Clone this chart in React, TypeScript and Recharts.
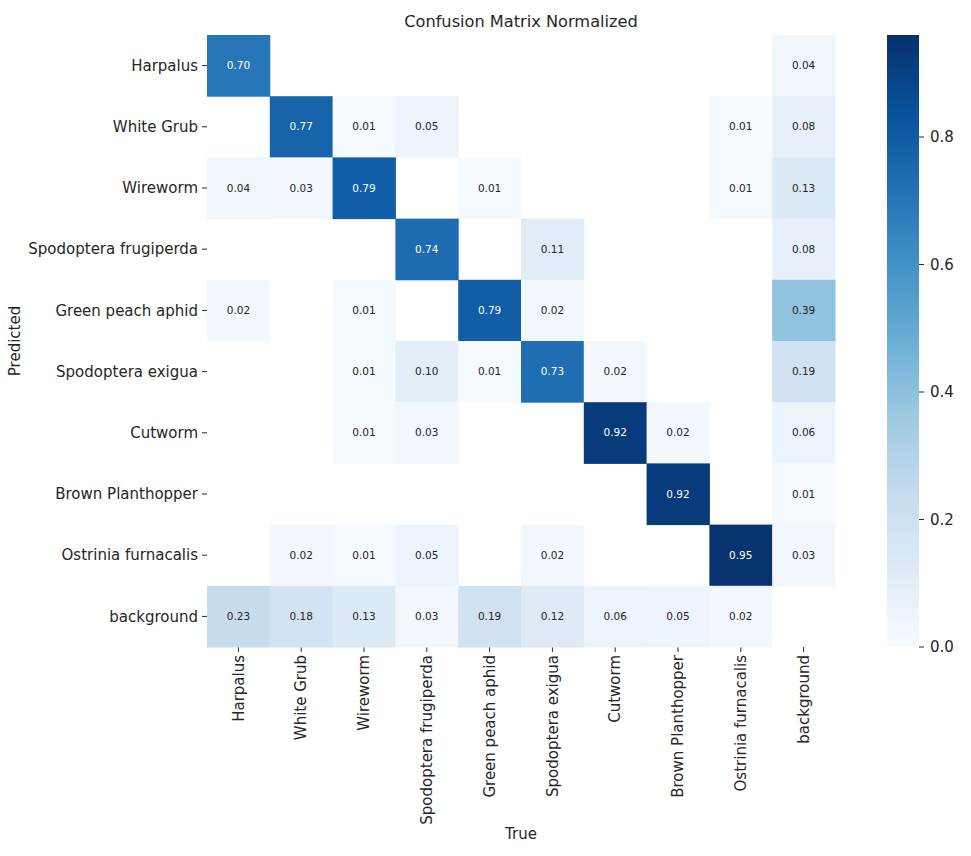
import React from 'react';
import { ScatterChart, Scatter, XAxis, YAxis, BarChart, Bar } from 'recharts';

// Class names, in matrix order (rows = predicted, columns = true)
const classes = [
  'Harpalus',
  'White Grub',
  'Wireworm',
  'Spodoptera frugiperda',
  'Green peach aphid',
  'Spodoptera exigua',
  'Cutworm',
  'Brown Planthopper',
  'Ostrinia furnacalis',
  'background',
];

// Normalized confusion values, one array per predicted class
const rowHarpalus = [0.7, 0, 0, 0, 0, 0, 0, 0, 0, 0.04];
const rowWhiteGrub = [0, 0.77, 0.01, 0.05, 0, 0, 0, 0, 0.01, 0.08];
const rowWireworm = [0.04, 0.03, 0.79, 0, 0.01, 0, 0, 0, 0.01, 0.13];
const rowFrugiperda = [0, 0, 0, 0.74, 0, 0.11, 0, 0, 0, 0.08];
const rowAphid = [0.02, 0, 0.01, 0, 0.79, 0.02, 0, 0, 0, 0.39];
const rowExigua = [0, 0, 0.01, 0.1, 0.01, 0.73, 0.02, 0, 0, 0.19];
const rowCutworm = [0, 0, 0.01, 0.03, 0, 0, 0.92, 0.02, 0, 0.06];
const rowPlanthopper = [0, 0, 0, 0, 0, 0, 0, 0.92, 0, 0.01];
const rowOstrinia = [0, 0.02, 0.01, 0.05, 0, 0.02, 0, 0, 0.95, 0.03];
const rowBackground = [0.23, 0.18, 0.13, 0.03, 0.19, 0.12, 0.06, 0.05, 0.02, 0];

const matrix = [
  rowHarpalus,
  rowWhiteGrub,
  rowWireworm,
  rowFrugiperda,
  rowAphid,
  rowExigua,
  rowCutworm,
  rowPlanthopper,
  rowOstrinia,
  rowBackground,
];

const colorbarTicks = [0, 0.2, 0.4, 0.6, 0.8];
const VMAX = 0.96;

// Layout
const W = 971;
const H = 856;
const M = { top: 35, right: 136, bottom: 18, left: 7 };
const Y_AXIS_W = 200;
const X_AXIS_H = 191;
const PLOT_W = W - M.left - M.right - Y_AXIS_W;
const PLOT_H = H - M.top - M.bottom - X_AXIS_H;
const N = classes.length;
const CELL_W = PLOT_W / N;
const CELL_H = PLOT_H / N;

const FONT = '"DejaVu Sans", Verdana, sans-serif';
const INK = '#262626';

// matplotlib "Blues" colormap
const BLUES = ['#f7fbff', '#deebf7', '#c6dbef', '#9ecae1', '#6baed6', '#4292c6', '#2171b5', '#08519c', '#08306b'];

const hexToRgb = (h: string) => [1, 3, 5].map((i) => parseInt(h.slice(i, i + 2), 16));

function blues(t: number): number[] {
  const c = Math.max(0, Math.min(1, t)) * (BLUES.length - 1);
  const i = Math.min(BLUES.length - 2, Math.floor(c));
  const f = c - i;
  const a = hexToRgb(BLUES[i]);
  const b = hexToRgb(BLUES[i + 1]);
  return a.map((v, k) => Math.round(v + (b[k] - v) * f));
}

const rgbStr = (c: number[]) => `rgb(${c[0]},${c[1]},${c[2]})`;

function luminance(c: number[]): number {
  const lin = c.map((v) => {
    const s = v / 255;
    return s <= 0.03928 ? s / 12.92 : Math.pow((s + 0.055) / 1.055, 2.4);
  });
  return 0.2126 * lin[0] + 0.7152 * lin[1] + 0.0722 * lin[2];
}

// Flattened cells; zero entries are left blank
const cells = matrix.flatMap((row, r) =>
  row
    .map((v, c) => ({ x: c + 0.5, y: r + 0.5, v }))
    .filter((d) => d.v > 0)
);

const centerTicks = classes.map((_, i) => i + 0.5);

const HeatCell = (props: any) => {
  const { cx, cy, payload } = props;
  const col = blues(payload.v / VMAX);
  const textColor = luminance(col) < 0.408 ? '#ffffff' : INK;
  return (
    <g>
      <rect x={cx - CELL_W / 2} y={cy - CELL_H / 2} width={CELL_W + 0.5} height={CELL_H + 0.5} fill={rgbStr(col)} />
      <text x={cx} y={cy} dy="0.35em" textAnchor="middle" fontSize={10.5} fontFamily={FONT} fill={textColor}>
        {payload.v.toFixed(2)}
      </text>
    </g>
  );
};

const YTick = (props: any) => {
  const { x, y, payload } = props;
  return (
    <text x={x} y={y} dy="0.35em" textAnchor="end" fontSize={15} fontFamily={FONT} fill={INK}>
      {classes[Math.floor(payload.value)]}
    </text>
  );
};

const XTick = (props: any) => {
  const { x, y, payload } = props;
  return (
    <g transform={`translate(${x},${y})`}>
      <text transform="rotate(-90)" x={0} y={0} dy="0.35em" textAnchor="end" fontSize={15} fontFamily={FONT} fill={INK}>
        {classes[Math.floor(payload.value)]}
      </text>
    </g>
  );
};

const CbTick = (props: any) => {
  const { x, y, payload } = props;
  return (
    <text x={x} y={y} dy="0.35em" textAnchor="start" fontSize={15} fontFamily={FONT} fill={INK}>
      {payload.value.toFixed(1)}
    </text>
  );
};

const colorbarData = [{ name: 'scale', top: VMAX }];

export default function App() {
  return (
    <div style={{ position: 'absolute', left: 0, top: 0, width: W, height: H, background: '#fff' }}>
      <ScatterChart width={W} height={H} margin={M}>
        <XAxis
          type="number"
          dataKey="x"
          domain={[0, N]}
          ticks={centerTicks}
          interval={0}
          height={X_AXIS_H}
          axisLine={false}
          tickLine={{ stroke: INK, strokeWidth: 1 }}
          tickSize={5}
          tickMargin={3}
          tick={<XTick />}
          label={{
            content: (p: any) => {
              const vb = p.viewBox;
              return (
                <text x={vb.x + vb.width / 2} y={vb.y + vb.height + 1} textAnchor="middle" fontSize={15} fontFamily={FONT} fill={INK}>
                  True
                </text>
              );
            },
          }}
        />
        <YAxis
          type="number"
          dataKey="y"
          domain={[0, N]}
          reversed
          ticks={centerTicks}
          interval={0}
          width={Y_AXIS_W}
          axisLine={false}
          tickLine={{ stroke: INK, strokeWidth: 1 }}
          tickSize={5}
          tickMargin={4}
          tick={<YTick />}
          label={{
            content: (p: any) => {
              const vb = p.viewBox;
              const cx = vb.x + 8;
              const cy = vb.y + vb.height / 2;
              return (
                <text x={cx} y={cy} dy="0.35em" transform={`rotate(-90 ${cx} ${cy})`} textAnchor="middle" fontSize={15} fontFamily={FONT} fill={INK}>
                  Predicted
                </text>
              );
            },
          }}
        />
        <Scatter data={cells} shape={<HeatCell />} isAnimationActive={false} />
        <text x={M.left + Y_AXIS_W + PLOT_W / 2} y={27} textAnchor="middle" fontSize={16.2} fontFamily={FONT} fill={INK}>
          Confusion Matrix Normalized
        </text>
      </ScatterChart>
      <div style={{ position: 'absolute', left: 887, top: 0 }}>
        <BarChart width={84} height={H} data={colorbarData} margin={{ top: 35, right: 0, bottom: 209, left: 0 }} barCategoryGap={0}>
          <defs>
            <linearGradient id="bluesGrad" x1="0" y1="1" x2="0" y2="0">
              {BLUES.map((c, i) => (
                <stop key={c} offset={`${(i / (BLUES.length - 1)) * 100}%`} stopColor={c} />
              ))}
            </linearGradient>
          </defs>
          <XAxis dataKey="name" hide />
          <YAxis
            orientation="right"
            type="number"
            domain={[0, VMAX]}
            ticks={colorbarTicks}
            width={52}
            axisLine={false}
            tickLine={{ stroke: INK, strokeWidth: 1 }}
            tickSize={5}
            tickMargin={6}
            tick={<CbTick />}
          />
          <Bar dataKey="top" fill="url(#bluesGrad)" isAnimationActive={false} />
        </BarChart>
      </div>
    </div>
  );
}
